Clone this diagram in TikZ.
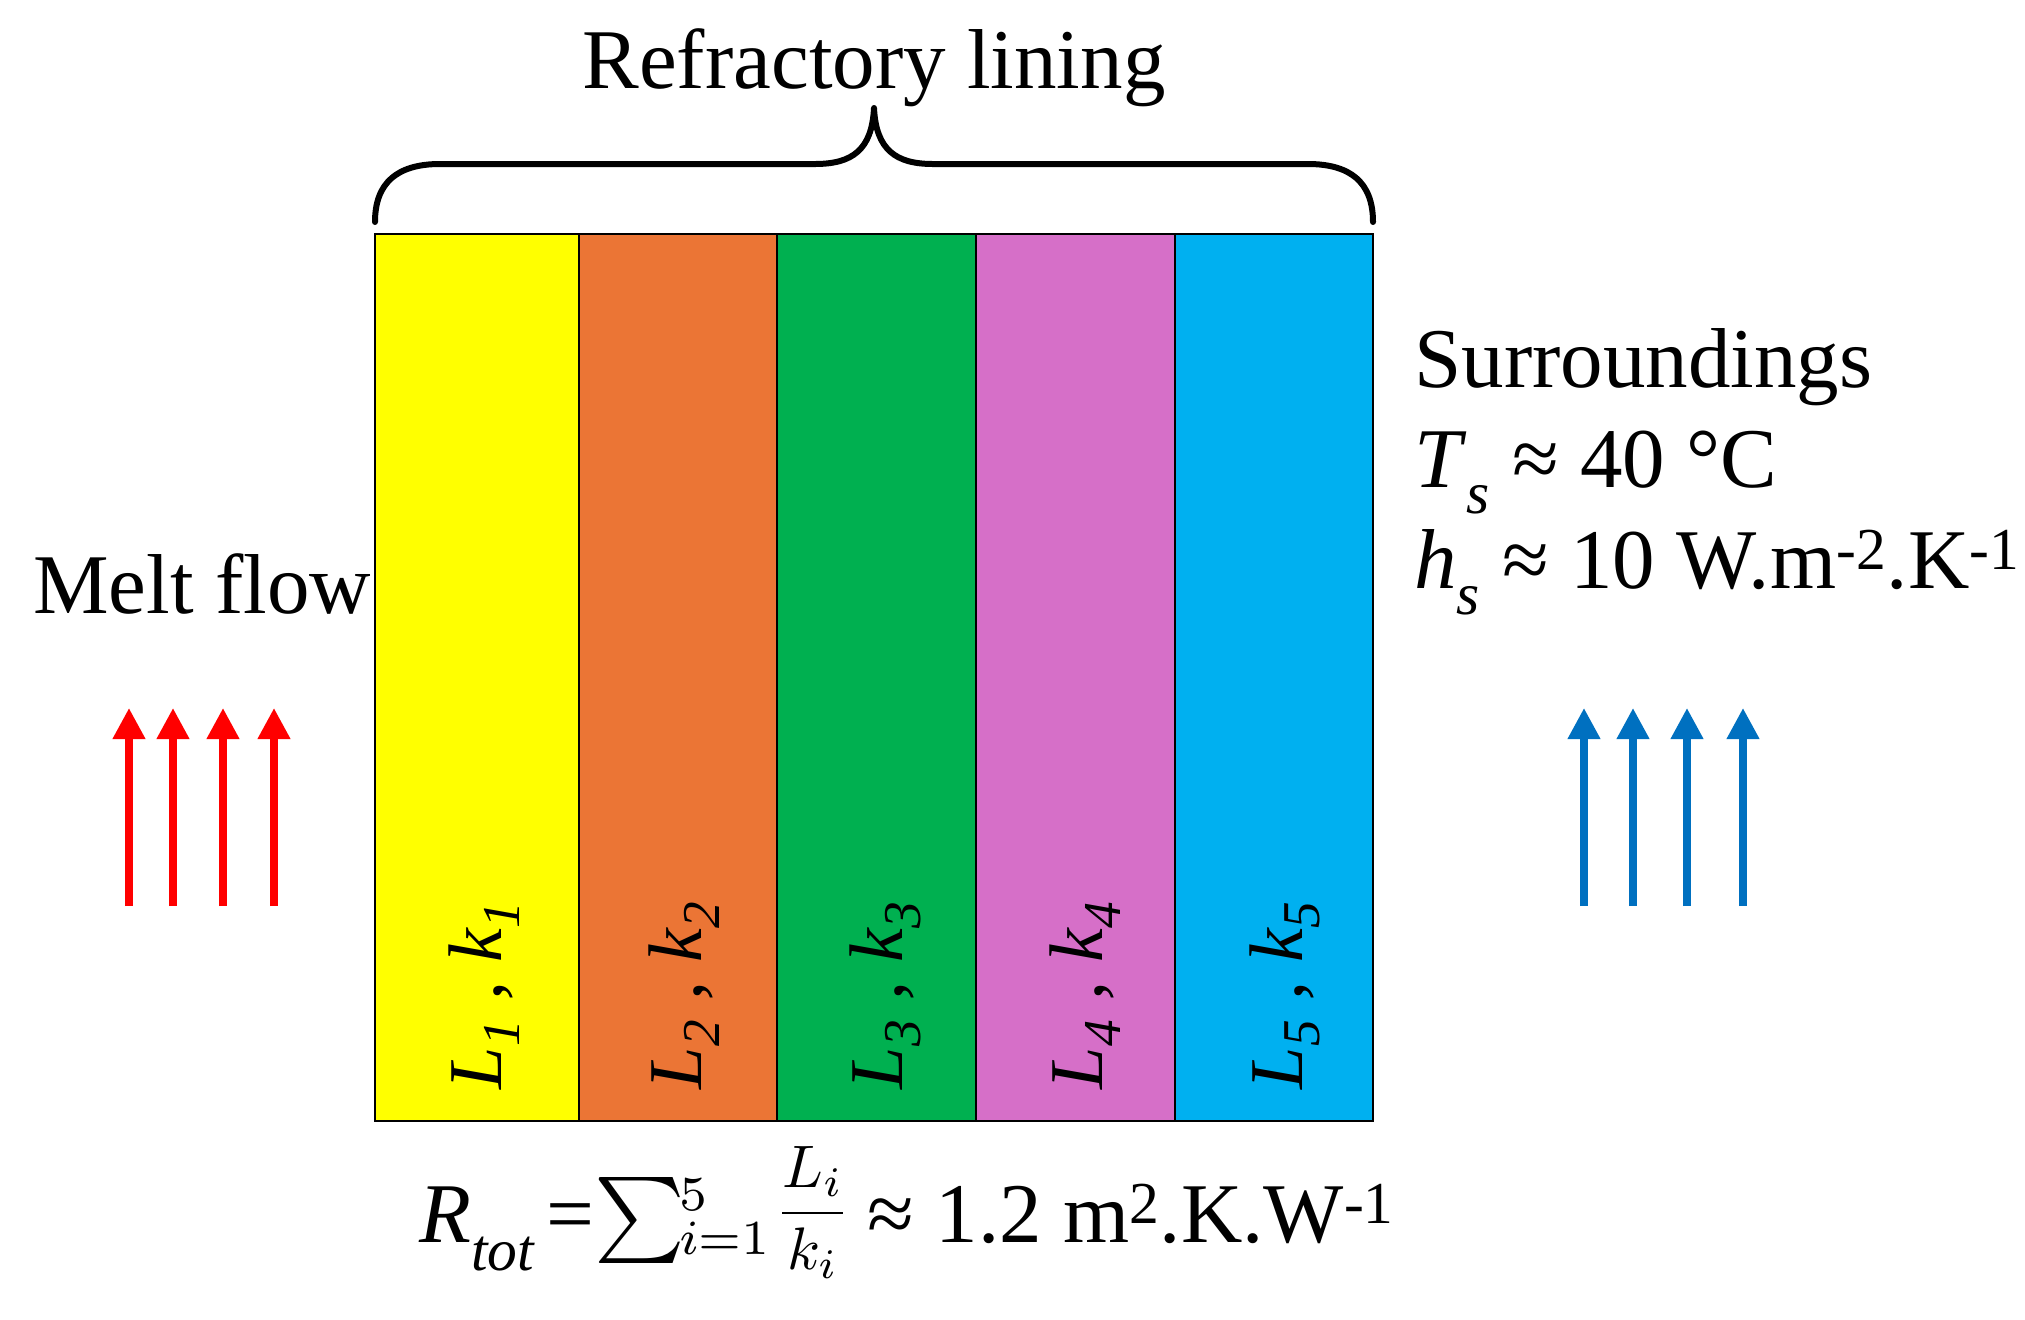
\documentclass[tikz,border=0pt]{standalone}
\usepackage{graphicx}
\usepackage{fontspec}
\setmainfont{Liberation Serif}
\usetikzlibrary{arrows.meta}
\definecolor{cyel}{HTML}{FFFF00}
\definecolor{cora}{HTML}{EB7535}
\definecolor{cgrn}{HTML}{00B050}
\definecolor{cpnk}{HTML}{D66FC8}
\definecolor{cblu}{HTML}{00B0F0}
\definecolor{hotred}{HTML}{FF0000}
\definecolor{coolblue}{HTML}{0070C0}
\newcommand{\sumsign}{\raisebox{0pt}{\scalebox{4.3}{\fontsize{10}{12}\selectfont$\textstyle\sum$}}\hspace{-3pt}\raisebox{3pt}{\scalebox{3.5}{\fontsize{10}{12}\selectfont$\textstyle\vphantom{\sum}_{i=1}^{5}$}}}
\newcommand{\fracpart}{\raisebox{7pt}{\scalebox{3.0}{\fontsize{10}{12}\selectfont$\displaystyle\frac{L_i}{k_i}$}}}
\begin{document}
\begin{tikzpicture}[x=0.5pt,y=-0.5pt,
  barbox/.style={draw=black, line width=1.2pt},
  lab/.style={rotate=90, inner sep=0pt, font=\fontsize{38}{40}\selectfont\itshape},
  bigtxt/.style={inner sep=0pt, font=\fontsize{42.5}{48}\selectfont},
  flowarrow/.style={line width=3.6pt, -{Triangle[width=15.5pt,length=15.5pt]}},
  bracestyle/.style={line width=3pt, line cap=round, line join=round}]
\useasboundingbox (0,0) rectangle (2025,1319);

% layers
\filldraw[barbox, fill=cyel] (375,234) rectangle (579,1121);
\filldraw[barbox, fill=cora] (579,234) rectangle (777,1121);
\filldraw[barbox, fill=cgrn] (777,234) rectangle (976,1121);
\filldraw[barbox, fill=cpnk] (976,234) rectangle (1175,1121);
\filldraw[barbox, fill=cblu] (1175,234) rectangle (1373,1121);

% layer labels
\node[lab] (l1) at (484,995) {L\textsubscript{1} , k\textsubscript{1}};
\node[lab] (l2) at (684,995) {L\textsubscript{2} , k\textsubscript{2}};
\node[lab] (l3) at (885,995) {L\textsubscript{3} , k\textsubscript{3}};
\node[lab] (l4) at (1085,995) {L\textsubscript{4} , k\textsubscript{4}};
\node[lab] (l5) at (1285,995) {L\textsubscript{5} , k\textsubscript{5}};

% brace
\draw[bracestyle] (375,222) .. controls (375,182) and (398,164) .. (440,164)
  -- (815,164) .. controls (852,164) and (872,150) .. (874,108)
  .. controls (876,150) and (896,164) .. (933,164)
  -- (1308,164) .. controls (1350,164) and (1373,182) .. (1373,222);
\node[bigtxt, anchor=base] (title) at (874,88) {Refractory lining};

% melt flow
\node[bigtxt, anchor=base west] (melt) at (33,613) {Melt flow};
\coordinate (ra1) at (129,906); \coordinate (rb1) at (129,708);
\coordinate (ra2) at (173,906); \coordinate (rb2) at (173,708);
\coordinate (ra3) at (223,906); \coordinate (rb3) at (223,708);
\coordinate (ra4) at (274,906); \coordinate (rb4) at (274,708);
\draw[flowarrow, hotred] (ra1) -- (rb1);
\draw[flowarrow, hotred] (ra2) -- (rb2);
\draw[flowarrow, hotred] (ra3) -- (rb3);
\draw[flowarrow, hotred] (ra4) -- (rb4);

% surroundings
\node[bigtxt, anchor=base west] (s1) at (1414,387) {Surroundings};
\node[bigtxt, anchor=base west] (s2) at (1414,487) {\textit{T}\raisebox{-0.4ex}{\textsubscript{\textit{s}}} ≈ 40 °C};
\node[bigtxt, anchor=base west] (s3) at (1414,588) {\textit{h}\raisebox{-0.4ex}{\textsubscript{\textit{s}}} ≈ 10 W.m\textsuperscript{-2}.K\textsuperscript{-1}};
\coordinate (ba1) at (1584,906); \coordinate (bb1) at (1584,708);
\coordinate (ba2) at (1633,906); \coordinate (bb2) at (1633,708);
\coordinate (ba3) at (1687,906); \coordinate (bb3) at (1687,708);
\coordinate (ba4) at (1743,906); \coordinate (bb4) at (1743,708);
\draw[flowarrow, coolblue] (ba1) -- (bb1);
\draw[flowarrow, coolblue] (ba2) -- (bb2);
\draw[flowarrow, coolblue] (ba3) -- (bb3);
\draw[flowarrow, coolblue] (ba4) -- (bb4);

% formula
\node[bigtxt, anchor=base west] (rtot) at (419,1242)
  {\textit{R}\raisebox{-0.3ex}{\textsubscript{\textit{tot}}}\hspace{5pt}=\sumsign\hspace{1pt}\fracpart\hspace{-2pt} ≈ 1.2 m\textsuperscript{2}.K.W\textsuperscript{-1}};
\end{tikzpicture}
\end{document}
